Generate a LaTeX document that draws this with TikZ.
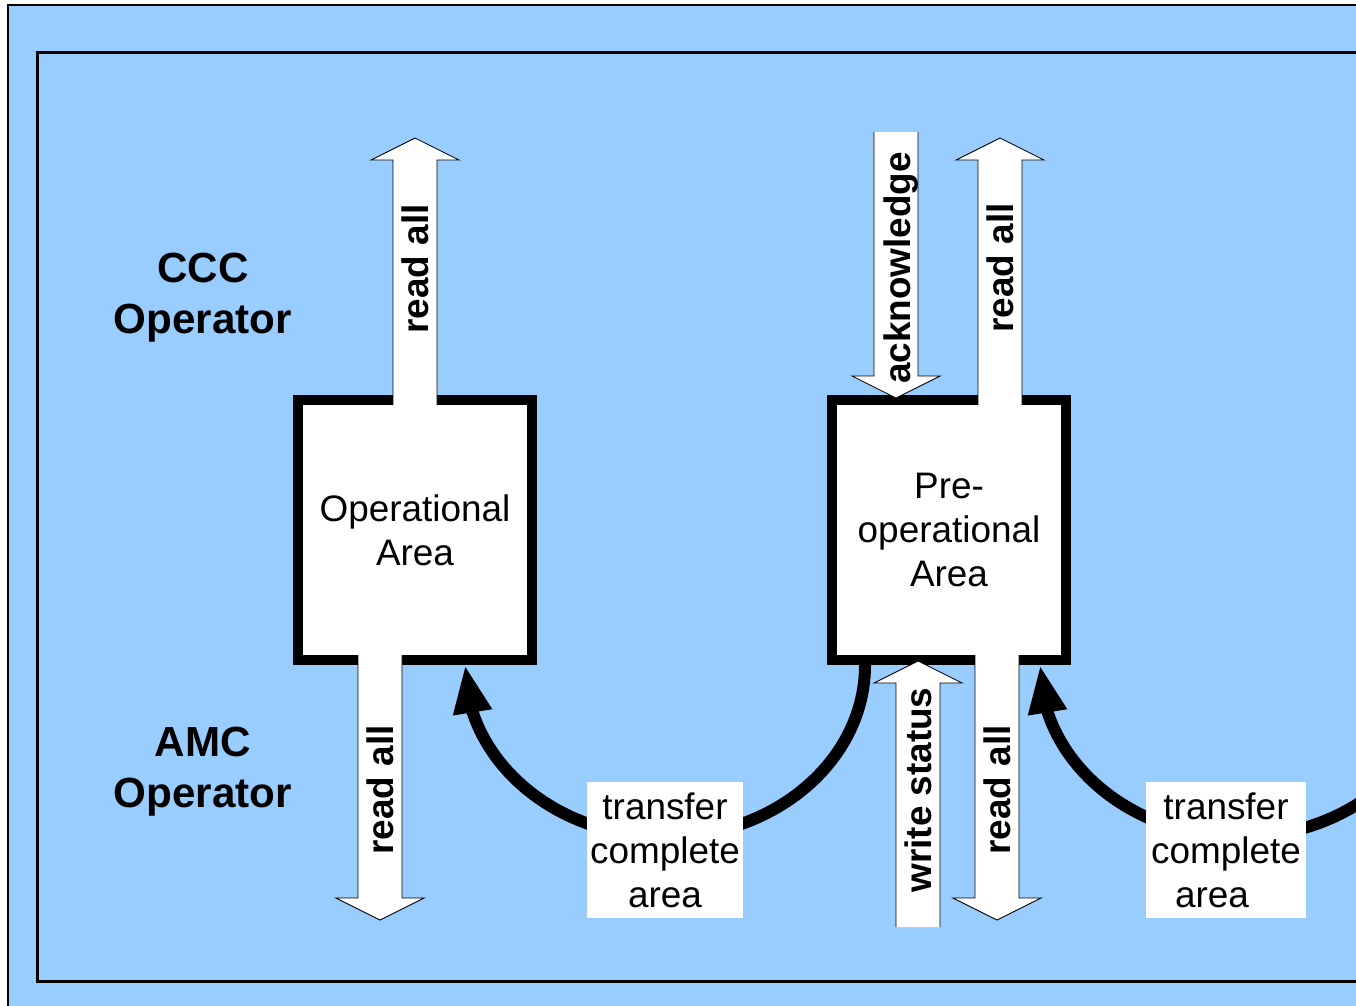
\documentclass[tikz,border=0pt]{standalone}
\usepackage{fontspec}
\setmainfont{Liberation Sans}
\usetikzlibrary{calc,arrows.meta,bending}
\definecolor{panelblue}{RGB}{153,204,255}
\tikzset{
  area/.style={draw, line width=0.2cm, fill=white, minimum width=4.68cm, minimum height=5.2cm,
    align=center, inner sep=0pt, font=\fontsize{21}{25}\selectfont},
  xferbox/.style={fill=white, align=center, inner sep=0pt, minimum height=2.72cm,
    font=\fontsize{21}{25}\selectfont},
  oplabel/.style={align=center, font=\fontsize{24}{29}\selectfont\bfseries},
  blockarrow/.style={draw, fill=white, line width=0.5pt},
  armlabel/.style={rotate=90, inner sep=0pt, text height=0.53cm, text depth=0pt,
    font=\fontsize{21}{25}\selectfont\bfseries},
  flow/.style={line width=0.24cm, -{Triangle[length=0.96cm, width=0.72cm, flex]}}
}

\begin{document}
\begin{tikzpicture}[x=0.02cm,y=-0.02cm]
    \useasboundingbox (0,0) rectangle (1356,1005);
    \clip (0,0) rectangle (1356,1005);
    \draw[line width=0.04cm, fill=panelblue] (8,5) rectangle (1420,1060);
    \draw[line width=0.06cm, fill=panelblue] (37,52) rectangle (1420,981);
    \node[oplabel] (ccc) at (203,298) {CCC\\Operator};
    \node[oplabel] (amc) at (203,772) {AMC\\Operator};
    \node[area] (op) at (415,530) {Operational\\Area};
    \node[area] (preop) at (949,530) {Pre-\\operational\\Area};
    \coordinate (offright) at (1440,665);
    \draw[flow] ($(preop.south west)+(38,0)$) arc[start angle=0, end angle=180, x radius=200, y radius=172];
    \draw[flow] (offright) arc[start angle=0, end angle=180, x radius=200, y radius=172];
    \node[xferbox, minimum width=3.12cm] (xfer1) at (665,850) {transfer\\complete\\area};
    \node[xferbox, minimum width=3.2cm] (xfer2) at (1226,850) {transfer\\complete\\area\hspace*{0.56cm}};
    \foreach \x/\t/\b/\p in {415/405/160/138, 1000/405/160/138, 896/132/376/398,
                             380/655/898/920, 918/927/683/661, 997/655/898/920}
      \draw[blockarrow] ({\x-22},\t) -- ({\x-22},\b) -- ({\x-44},\b) -- (\x,\p)
        -- ({\x+44},\b) -- ({\x+22},\b) -- ({\x+22},\t);
    \node[armlabel] (opread) at (415,269) {read all};
    \node[armlabel] (ack) at (897,268) {acknowledge};
    \node[armlabel] (preread) at (1000,268) {read all};
    \node[armlabel] (amcread) at (380,790) {read all};
    \node[armlabel] (wstatus) at (918,790) {write status};
    \node[armlabel] (preamcread) at (997,790) {read all};
\end{tikzpicture}
\end{document}
